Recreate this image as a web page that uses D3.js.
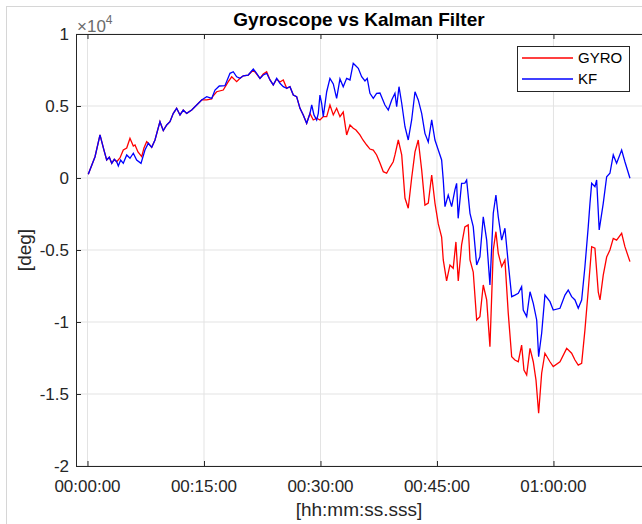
<!DOCTYPE html>
<html>
<head>
<meta charset="utf-8">
<script src="https://cdn.jsdelivr.net/npm/d3@7"></script>
<style>
	body { margin: 0; background: #fff; }
	svg { display: block; font-family: "Liberation Sans", Arial, sans-serif; }
</style>
</head>
<body>
<svg id="chart"></svg>
<script>
// ========== DATA ==========
var title = 'Gyroscope vs Kalman Filter';
var seriesNames = ['GYRO', 'KF'];
var seriesColors = ['#ff0000', '#0000ff'];

// [time in minutes, angle in deg]
var gyro = [[0.10,260],[0.97,1480],[1.61,2990],[2.12,1940],[2.47,1250],[2.81,1440],[3.12,1020],[3.45,1300],[3.76,1130],[4.18,1390],[4.61,1940],[5.05,2080],[5.47,2760],[5.90,2220],[6.12,2290],[6.50,1810],[6.98,1480],[7.27,2080],[7.62,2520],[7.83,2410],[8.27,2130],[8.69,2640],[9.33,3910],[9.76,3290],[10.20,3680],[10.62,3910],[11.05,4490],[11.48,4840],[11.91,4380],[12.33,4720],[12.77,4490],[13.42,4720],[14.06,5070],[14.70,5420],[15.35,5420],[15.99,5490],[16.16,5690],[16.63,5990],[17.48,6110],[18.13,6690],[18.57,7030],[19.21,6690],[19.64,6920],[20.06,7100],[20.70,7150],[21.35,7500],[21.78,7220],[22.21,6920],[22.63,7220],[23.07,7380],[23.50,6810],[23.92,6460],[24.36,6880],[24.78,6670],[25.21,6810],[25.65,6230],[26.07,6340],[26.50,5760],[26.93,5650],[27.36,4840],[27.78,4380],[28.22,3800],[28.65,4490],[29.07,4030],[29.51,4150],[29.93,4030],[30.36,4260],[30.80,4260],[31.22,5070],[31.65,4380],[32.08,4840],[32.51,4260],[32.93,4580],[33.37,2990],[33.80,3680],[34.22,3450],[34.57,3330],[35.08,2990],[35.47,2640],[35.95,2290],[36.37,2010],[36.80,1940],[37.23,1600],[37.66,1040],[38.09,440],[38.52,330],[38.95,760],[39.37,1130],[39.59,1600],[40.02,2640],[40.46,1600],[40.88,-1390],[41.30,-2100],[41.74,0],[42.17,1810],[42.59,2640],[43.03,560],[43.45,-1880],[43.88,-1740],[44.32,210],[44.74,-1740],[45.17,-3190],[45.60,-4100],[45.81,-5690],[46.24,-7150],[46.67,-6040],[47.09,-6270],[47.44,-4440],[47.74,-7150],[48.17,-4650],[48.59,-3400],[49.02,-3260],[49.25,-5690],[49.67,-6530],[50.11,-9860],[50.53,-9630],[50.96,-7430],[51.40,-8470],[51.82,-11720],[52.25,-5000],[52.59,-3730],[52.89,-5230],[53.33,-6160],[53.75,-5690],[54.18,-9400],[54.62,-12410],[55.04,-12640],[55.47,-12760],[55.90,-11600],[56.20,-13330],[56.55,-13680],[56.98,-11830],[57.40,-12760],[57.75,-14030],[58.09,-16340],[58.48,-13560],[58.90,-12170],[59.55,-12760],[59.97,-13100],[60.84,-12760],[61.70,-11830],[62.34,-12170],[62.77,-12640],[63.19,-12990],[63.63,-12870],[64.05,-10560],[64.48,-7780],[64.92,-4770],[65.34,-4880],[65.77,-7920],[65.99,-8470],[66.41,-6740],[66.85,-5490],[67.27,-5000],[67.70,-4190],[68.13,-4310],[68.78,-3840],[69.20,-4770],[69.85,-5810]];

var kf = [[0.10,260],[0.97,1480],[1.61,2990],[2.12,1940],[2.47,1250],[2.81,1440],[3.12,1020],[3.45,1300],[3.76,1130],[3.97,830],[4.27,1250],[4.61,1020],[5.05,1600],[5.47,1370],[5.90,1720],[6.33,1250],[6.89,1020],[7.40,1940],[7.83,2410],[8.27,2130],[8.69,2640],[9.33,3910],[9.76,3290],[10.20,3680],[10.62,3910],[11.05,4490],[11.48,4840],[11.91,4380],[12.33,4720],[12.77,4490],[13.42,4720],[14.06,5070],[14.70,5420],[15.35,5650],[15.99,5530],[16.42,6110],[16.97,6390],[17.70,6410],[18.35,7270],[18.77,7380],[19.21,7030],[19.64,6920],[20.06,7100],[20.70,7150],[21.35,7570],[21.78,7270],[22.21,6920],[22.63,7150],[23.07,7270],[23.50,6810],[23.92,6460],[24.36,6920],[24.78,6580],[25.21,6340],[25.65,6230],[26.07,6340],[26.50,5760],[26.93,5650],[27.36,4840],[27.78,4380],[28.22,3800],[28.65,4490],[28.87,5070],[29.16,4380],[29.51,4030],[29.72,4490],[29.93,5760],[30.15,5190],[30.36,4260],[30.80,5990],[31.22,6920],[31.65,6530],[32.08,5530],[32.51,6880],[32.93,6340],[33.37,6920],[33.80,6810],[34.22,7970],[34.44,7850],[34.87,7620],[35.30,7030],[35.73,6740],[36.02,6920],[36.37,5880],[36.80,5530],[37.23,5880],[37.66,5900],[38.30,5070],[38.73,4720],[39.17,5420],[39.59,5880],[39.81,4950],[40.11,6340],[40.46,5190],[40.88,3560],[41.30,2640],[41.74,4030],[42.17,5990],[42.59,5420],[43.03,4490],[43.45,3100],[43.88,2500],[44.32,4030],[44.74,2640],[45.17,1940],[45.60,1250],[45.81,-140],[46.03,-1990],[46.45,-1180],[46.89,-1990],[47.31,-830],[47.53,-370],[47.73,-2800],[48.17,-370],[48.59,-350],[48.82,-140],[49.25,-2450],[49.67,-3380],[50.11,-6040],[50.53,-5470],[50.96,-2690],[51.40,-4310],[51.82,-7430],[52.25,-2450],[52.59,-1180],[52.89,-2690],[53.33,-4310],[53.75,-3490],[54.18,-5920],[54.62,-8240],[55.04,-8130],[55.47,-8010],[55.90,-7550],[56.11,-9170],[56.55,-9630],[56.98,-7900],[57.40,-8700],[57.84,-9860],[58.09,-12410],[58.48,-10780],[58.90,-8130],[59.55,-8590],[59.97,-9170],[60.84,-9050],[61.48,-8130],[61.90,-7780],[62.34,-8240],[62.77,-8470],[63.19,-9050],[63.63,-8470],[64.05,-6160],[64.48,-3380],[64.70,-1760],[64.92,-370],[65.34,-600],[65.56,-140],[65.89,-3610],[66.41,-1760],[66.85,90],[67.27,330],[67.70,1600],[68.13,1020],[68.78,1940],[69.20,1130],[69.85,-20]];

var xTicks = [0, 15, 30, 45, 60];
var xTickLabels = ['00:00:00', '00:15:00', '00:30:00', '00:45:00', '01:00:00'];
var yTicks = [-20000, -15000, -10000, -5000, 0, 5000, 10000];
var yTickLabels = ['-2', '-1.5', '-1', '-0.5', '0', '0.5', '1'];

makeChart();

function makeChart() {
	// ========== LAYOUT ==========
	var width = 642, height = 524;
	var plotLeft = 76, plotRight = 642, plotTop = 34, plotBottom = 466;
	var axis_color = '#262626';
	var grid_color = '#e3e3e3';
	var text_color = '#262626';

	var svg = d3.select('#chart')
		.attr('width', width)
		.attr('height', height);

	var x = d3.scaleLinear().domain([-1.48, 71.4]).range([plotLeft, plotRight]);
	var y = d3.scaleLinear().domain([-20000, 10000]).range([plotBottom, plotTop]);

	// figure frame
	svg.append('rect')
		.attr('x', 6.5).attr('y', 6.5)
		.attr('width', 700).attr('height', 600)
		.attr('fill', 'none')
		.attr('stroke', '#d6d6d6');

	// grid
	svg.selectAll('.xgrid')
		.data(xTicks).enter().append('line')
			.attr('class', 'xgrid')
			.attr('x1', function(d) { return x(d); })
			.attr('x2', function(d) { return x(d); })
			.attr('y1', plotTop).attr('y2', plotBottom)
			.attr('stroke', grid_color);
	svg.selectAll('.ygrid')
		.data(yTicks).enter().append('line')
			.attr('class', 'ygrid')
			.attr('x1', plotLeft).attr('x2', plotRight)
			.attr('y1', function(d) { return y(d); })
			.attr('y2', function(d) { return y(d); })
			.attr('stroke', grid_color);

	// data lines, red first so blue sits on top
	var line = d3.line()
		.x(function(d) { return x(d[0]); })
		.y(function(d) { return y(d[1]); });

	svg.append('path')
		.datum(gyro)
		.attr('d', line)
		.attr('fill', 'none')
		.attr('stroke', seriesColors[0])
		.attr('stroke-width', 1.3);
	svg.append('path')
		.datum(kf)
		.attr('d', line)
		.attr('fill', 'none')
		.attr('stroke', seriesColors[1])
		.attr('stroke-width', 1.3);

	// ticks pointing inward, matlab style
	svg.append('g')
		.attr('transform', 'translate(0,' + plotBottom + ')')
		.call(d3.axisTop(x).tickValues(xTicks).tickSize(5).tickFormat(''))
		.call(function(g) { g.select('.domain').remove(); });
	svg.append('g')
		.attr('transform', 'translate(0,' + plotTop + ')')
		.call(d3.axisBottom(x).tickValues(xTicks).tickSize(5).tickFormat(''))
		.call(function(g) { g.select('.domain').remove(); });
	svg.append('g')
		.attr('transform', 'translate(' + plotLeft + ',0)')
		.call(d3.axisRight(y).tickValues(yTicks).tickSize(5).tickFormat(''))
		.call(function(g) { g.select('.domain').remove(); });
	svg.selectAll('.tick line').attr('stroke', axis_color);

	svg.append('rect')
		.attr('x', plotLeft + 0.5).attr('y', plotTop + 0.5)
		.attr('width', plotRight - plotLeft).attr('height', plotBottom - plotTop)
		.attr('fill', 'none')
		.attr('stroke', axis_color)
		.attr('stroke-width', 1);

	// tick labels
	svg.selectAll('.xlabel')
		.data(xTicks).enter().append('text')
			.attr('class', 'xlabel')
			.attr('x', function(d) { return x(d); })
			.attr('y', plotBottom + 26)
			.attr('text-anchor', 'middle')
			.attr('fill', text_color)
			.style('font-size', '17px')
			.text(function(d, i) { return xTickLabels[i]; });
	svg.selectAll('.ylabel')
		.data(yTicks).enter().append('text')
			.attr('class', 'ylabel')
			.attr('x', plotLeft - 7)
			.attr('y', function(d) { return y(d); })
			.attr('dy', '0.35em')
			.attr('text-anchor', 'end')
			.attr('fill', text_color)
			.style('font-size', '17px')
			.text(function(d, i) { return yTickLabels[i]; });

	// exponent
	var expo = svg.append('text')
		.attr('x', plotLeft + 1)
		.attr('y', plotTop - 2)
		.attr('fill', '#6b6b6b')
		.style('font-size', '17px');
	expo.append('tspan').text('\u00d710');
	expo.append('tspan')
		.attr('dy', -8)
		.style('font-size', '12px')
		.text('4');

	// titles
	svg.append('text')
		.attr('x', (plotLeft + plotRight) / 2)
		.attr('y', 26)
		.attr('text-anchor', 'middle')
		.attr('fill', '#000')
		.style('font-size', '19px')
		.style('font-weight', 'bold')
		.text(title);
	svg.append('text')
		.attr('x', (plotLeft + plotRight) / 2)
		.attr('y', 516)
		.attr('text-anchor', 'middle')
		.attr('fill', text_color)
		.style('font-size', '19px')
		.text('[hh:mm:ss.sss]');
	svg.append('text')
		.attr('transform', 'translate(31,' + ((plotTop + plotBottom) / 2) + ')rotate(-90)')
		.attr('text-anchor', 'middle')
		.attr('fill', text_color)
		.style('font-size', '19px')
		.text('[deg]');

	// legend
	var legend = svg.append('g');
	legend.append('rect')
		.attr('x', 517.5).attr('y', 46.5)
		.attr('width', 112).attr('height', 45)
		.attr('fill', '#fff')
		.attr('stroke', axis_color)
		.attr('stroke-width', 1);
	legend.selectAll('.legend_line')
		.data(seriesNames).enter().append('line')
			.attr('class', 'legend_line')
			.attr('x1', 522).attr('x2', 573)
			.attr('y1', function(d, i) { return 58 + i * 21; })
			.attr('y2', function(d, i) { return 58 + i * 21; })
			.attr('stroke', function(d, i) { return seriesColors[i]; })
			.attr('stroke-width', 1.3);
	legend.selectAll('.legend_text')
		.data(seriesNames).enter().append('text')
			.attr('class', 'legend_text')
			.attr('x', 578)
			.attr('y', function(d, i) { return 58 + i * 21; })
			.attr('dy', '0.35em')
			.attr('fill', '#000')
			.style('font-size', '15px')
			.text(function(d) { return d; });
}
</script>
</body>
</html>
